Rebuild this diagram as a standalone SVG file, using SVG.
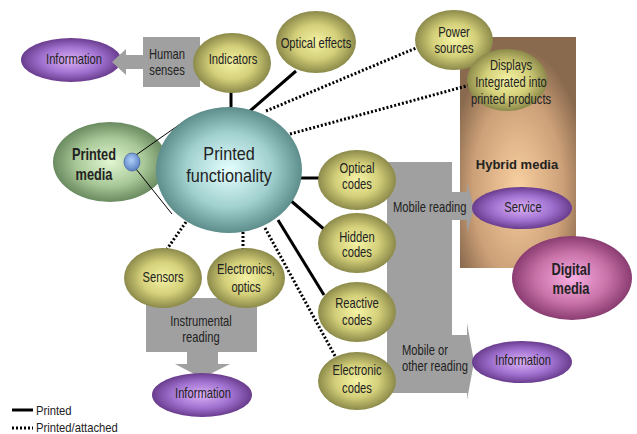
<svg xmlns="http://www.w3.org/2000/svg" width="637" height="434" viewBox="0 0 637 434">
<defs>
  <radialGradient id="gOlive" cx="0.5" cy="0.5" r="0.5">
    <stop offset="0" stop-color="#f4f2a4"/>
    <stop offset="0.55" stop-color="#d4d07a"/>
    <stop offset="1" stop-color="#8c8a4a"/>
  </radialGradient>
  <radialGradient id="gPurple" cx="0.5" cy="0.5" r="0.5">
    <stop offset="0" stop-color="#dcb0f6"/>
    <stop offset="0.6" stop-color="#a072d0"/>
    <stop offset="1" stop-color="#6a3c8e"/>
  </radialGradient>
  <radialGradient id="gTeal" cx="0.5" cy="0.5" r="0.5">
    <stop offset="0" stop-color="#e4ffff"/>
    <stop offset="0.6" stop-color="#a0d0ce"/>
    <stop offset="1" stop-color="#5e8e8c"/>
  </radialGradient>
  <radialGradient id="gGreen" cx="0.5" cy="0.5" r="0.5">
    <stop offset="0" stop-color="#e2f6d2"/>
    <stop offset="0.6" stop-color="#a8c898"/>
    <stop offset="1" stop-color="#6a8a60"/>
  </radialGradient>
  <radialGradient id="gPink" cx="0.5" cy="0.5" r="0.5">
    <stop offset="0" stop-color="#f8aee2"/>
    <stop offset="0.6" stop-color="#c872a8"/>
    <stop offset="1" stop-color="#8a3c70"/>
  </radialGradient>
  <radialGradient id="gBlue" cx="0.45" cy="0.4" r="0.6">
    <stop offset="0" stop-color="#b0d0f8"/>
    <stop offset="1" stop-color="#5a80c4"/>
  </radialGradient>
  <radialGradient id="gBrown" cx="0.5" cy="0.65" r="0.6">
    <stop offset="0" stop-color="#f8d0a0"/>
    <stop offset="0.65" stop-color="#cca078"/>
    <stop offset="1" stop-color="#8a6a4e"/>
  </radialGradient>
</defs>
<style>
  text{font-family:"Liberation Sans",Arial,sans-serif;fill:#222}
  .t{font-size:14px;text-anchor:middle}
  .s{font-size:14px;text-anchor:start}
  .b{font-weight:bold}
  .solid{stroke:#000;stroke-width:3;fill:none}
  .dot{stroke:#000;stroke-width:3;stroke-dasharray:2 2;fill:none}
  .thin{stroke:#000;stroke-width:1;fill:none}
  .gray{fill:#a0a0a0}
  .olive{fill:url(#gOlive)}
  .purple{fill:url(#gPurple)}
</style>
<rect width="637" height="434" fill="#ffffff"/>

<g id="hybrid-media">
  <rect x="460" y="37" width="116" height="231" fill="url(#gBrown)"/>
  <text class="t b" style="font-size:13px" x="517" y="169">Hybrid media</text>
</g>

<g id="information-top">
  <ellipse class="purple" cx="71" cy="60" rx="50" ry="22"/>
  <text class="t" transform="translate(74 64) scale(.8 1)">Information</text>
</g>

<g id="human-senses">
  <polygon class="gray" points="200,37 200,87 143,87 143,69 126,69 126,75 112,62 126,49 126,55 143,55 143,37"/>
  <text class="t" transform="translate(167 0) scale(.8 1)"><tspan x="0" y="59">Human</tspan><tspan x="0" y="75">senses</tspan></text>
</g>

<g id="printed-media">
  <ellipse cx="110" cy="162" rx="57" ry="40" fill="url(#gGreen)"/>
  <text class="t b" style="font-size:16px" transform="translate(94 0) scale(.8 1)"><tspan x="0" y="160">Printed</tspan><tspan x="0" y="180">media</tspan></text>
</g>

<g id="connectors">
  <line class="thin" x1="136" y1="155" x2="186" y2="120"/>
  <line class="thin" x1="136" y1="169" x2="172" y2="214"/>
  <line class="solid" x1="231" y1="92" x2="231" y2="108"/>
  <line class="solid" x1="250" y1="111" x2="296" y2="71"/>
  <line class="dot" x1="266" y1="111" x2="416" y2="48"/>
  <line class="dot" x1="290" y1="134" x2="470" y2="85"/>
  <line class="solid" x1="300" y1="178" x2="320" y2="178"/>
  <line class="solid" x1="290" y1="200" x2="325" y2="230"/>
  <line class="solid" x1="278" y1="220" x2="324" y2="295"/>
  <line class="dot" x1="265" y1="228" x2="335" y2="356"/>
  <line class="dot" x1="186" y1="222" x2="167" y2="249"/>
  <line class="dot" x1="243" y1="232" x2="243" y2="249"/>
</g>

<g id="printed-media-dot">
  <ellipse cx="132" cy="162" rx="8" ry="9" fill="url(#gBlue)" stroke="#4a6aa8" stroke-width="0.8"/>
</g>

<g id="printed-functionality">
  <ellipse cx="229" cy="170" rx="73" ry="63" fill="url(#gTeal)"/>
  <text class="t" style="font-size:18px" transform="translate(229 0) scale(.9 1)"><tspan x="0" y="160">Printed</tspan><tspan x="0" y="182">functionality</tspan></text>
</g>

<g id="indicators">
  <ellipse class="olive" cx="232" cy="63" rx="39" ry="30"/>
  <text class="t" transform="translate(233 64) scale(.8 1)">Indicators</text>
</g>

<g id="optical-effects">
  <ellipse class="olive" cx="316" cy="42" rx="40" ry="31"/>
  <text class="t" transform="translate(316 48) scale(.8 1)">Optical effects</text>
</g>

<g id="power-sources">
  <ellipse class="olive" cx="454" cy="40" rx="39" ry="30"/>
  <text class="t" transform="translate(454 0) scale(.8 1)"><tspan x="0" y="37">Power</tspan><tspan x="0" y="53">sources</tspan></text>
</g>

<g id="displays">
  <ellipse class="olive" cx="507" cy="80" rx="40" ry="31"/>
  <text class="t" transform="translate(511 0) scale(.8 1)"><tspan x="0" y="70">Displays</tspan><tspan x="0" y="87">Integrated into</tspan><tspan x="0" y="104">printed products</tspan></text>
</g>

<g id="mobile-reading">
  <polygon class="gray" points="387,162 452,162 452,192 467,192 467,182 474,208 467,233 467,220 452,220 452,335 467,335 467,323 474,362 467,400 467,393 387,393"/>
  <text class="s" transform="translate(393 212) scale(.8 1)">Mobile reading</text>
  <text class="s" transform="translate(402 0) scale(.8 1)"><tspan x="0" y="355">Mobile or</tspan><tspan x="0" y="371">other reading</tspan></text>
</g>

<g id="service">
  <ellipse class="purple" cx="522" cy="208" rx="50" ry="21"/>
  <text class="t" transform="translate(523 212) scale(.8 1)">Service</text>
</g>

<g id="digital-media">
  <ellipse cx="572" cy="278" rx="60" ry="42" fill="url(#gPink)"/>
  <text class="t b" style="font-size:16px" transform="translate(571 0) scale(.8 1)"><tspan x="0" y="275">Digital</tspan><tspan x="0" y="294">media</tspan></text>
</g>

<g id="information-right">
  <ellipse class="purple" cx="522" cy="362" rx="50" ry="21"/>
  <text class="t" transform="translate(523 365) scale(.8 1)">Information</text>
</g>

<g id="optical-codes">
  <ellipse class="olive" cx="357" cy="180" rx="39" ry="30"/>
  <text class="t" transform="translate(357 0) scale(.8 1)"><tspan x="0" y="173">Optical</tspan><tspan x="0" y="189">codes</tspan></text>
</g>

<g id="hidden-codes">
  <ellipse class="olive" cx="357" cy="243" rx="39" ry="30"/>
  <text class="t" transform="translate(357 0) scale(.8 1)"><tspan x="0" y="242">Hidden</tspan><tspan x="0" y="257">codes</tspan></text>
</g>

<g id="reactive-codes">
  <ellipse class="olive" cx="357" cy="312" rx="39" ry="30"/>
  <text class="t" transform="translate(357 0) scale(.8 1)"><tspan x="0" y="308">Reactive</tspan><tspan x="0" y="325">codes</tspan></text>
</g>

<g id="electronic-codes">
  <ellipse class="olive" cx="357" cy="381" rx="39" ry="29"/>
  <text class="t" transform="translate(357 0) scale(.8 1)"><tspan x="0" y="375">Electronic</tspan><tspan x="0" y="393">codes</tspan></text>
</g>

<g id="instrumental-reading">
  <polygon class="gray" points="146,298 257,298 257,352 218,352 218,364 230,364 202,378 175,364 187,364 187,352 146,352"/>
  <text class="t" transform="translate(201 0) scale(.8 1)"><tspan x="0" y="326">Instrumental</tspan><tspan x="0" y="342">reading</tspan></text>
</g>

<g id="sensors">
  <ellipse class="olive" cx="163" cy="278" rx="39" ry="30"/>
  <text class="t" transform="translate(163 282) scale(.8 1)">Sensors</text>
</g>

<g id="electronics-optics">
  <ellipse class="olive" cx="246" cy="278" rx="39" ry="30"/>
  <text class="t" transform="translate(246 0) scale(.8 1)"><tspan x="0" y="274">Electronics,</tspan><tspan x="0" y="292">optics</tspan></text>
</g>

<g id="information-bottom">
  <ellipse class="purple" cx="202" cy="395" rx="50" ry="22"/>
  <text class="t" transform="translate(203 398) scale(.8 1)">Information</text>
</g>

<g id="legend">
  <line class="solid" x1="12" y1="410" x2="33" y2="410"/>
  <line class="dot" x1="12" y1="428" x2="33" y2="428"/>
  <text class="s" style="font-size:12.5px" transform="translate(36 415) scale(.9 1)">Printed</text>
  <text class="s" style="font-size:12.5px" transform="translate(36 432) scale(.9 1)">Printed/attached</text>
</g>
</svg>
